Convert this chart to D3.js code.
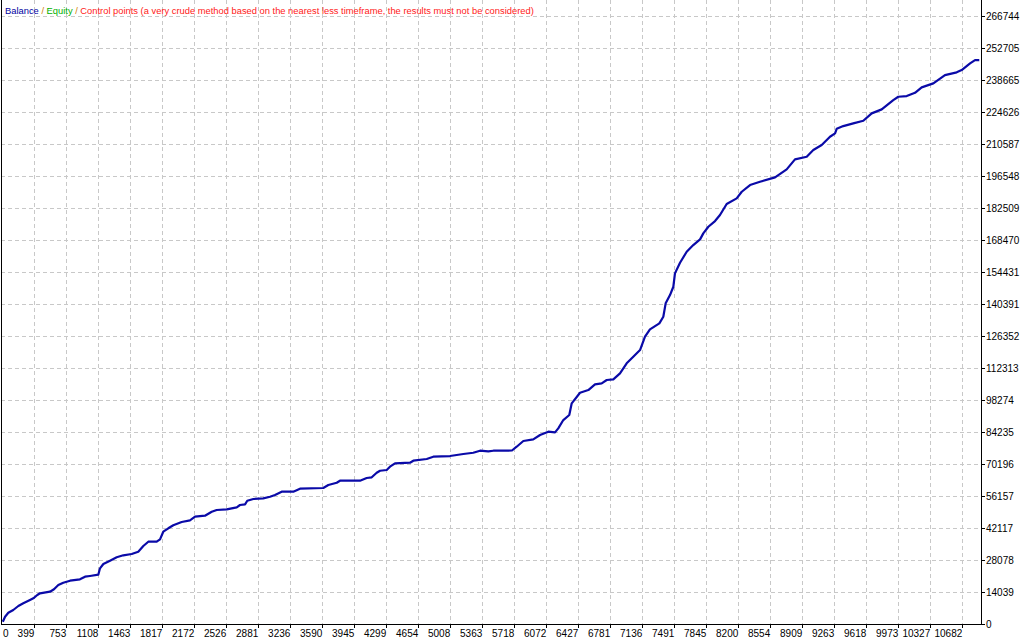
<!DOCTYPE html>
<html>
<head>
<meta charset="utf-8">
<script src="https://cdnjs.cloudflare.com/ajax/libs/d3/7.8.5/d3.min.js"></script>
<style>
  body { margin: 0; background: #fff; }
  svg text { font-family: "Liberation Sans", Arial, sans-serif; font-size: 10px; }
</style>
</head>
<body>
<div id="chart"></div>
<script>
// trade number -> balance
const trades = [50, 75, 111, 166, 222, 277, 351, 388, 432, 462, 573, 617, 665, 720, 795, 905, 961, 1016, 1108, 1127,
  1164, 1238, 1312, 1385, 1478, 1551, 1607, 1662, 1755, 1792, 1828, 1884, 1939, 2032, 2124, 2180, 2290, 2365, 2420, 2531,
  2642, 2678, 2734, 2759, 2826, 2936, 3011, 3066, 3140, 3269, 3343, 3601, 3657, 3750, 3786, 4008, 4082, 4138, 4193, 4230,
  4304, 4340, 4396, 4562, 4599, 4747, 4820, 5005, 5153, 5263, 5338, 5430, 5485, 5692, 5744, 5818, 5928, 6003, 6095, 6169,
  6205, 6261, 6327, 6354, 6446, 6538, 6612, 6686, 6742, 6815, 6889, 6963, 7036, 7111, 7166, 7221, 7325, 7369, 7395, 7443,
  7480, 7498, 7554, 7628, 7701, 7776, 7812, 7868, 7942, 7997, 8071, 8182, 8238, 8330, 8440, 8607, 8736, 8828, 8958, 9031,
  9124, 9216, 9272, 9290, 9363, 9474, 9585, 9678, 9789, 9917, 9973, 10066, 10158, 10232, 10361, 10490, 10620, 10675, 10768, 10823,
  10870];
const balance = [1000, 3200, 4950, 6140, 7890, 9070, 10520, 11270, 12710, 13460, 14160, 15210, 17090, 18100, 18980, 19590, 20730, 21040, 21610, 24410,
  26300, 27750, 29240, 30110, 30680, 31690, 34190, 36070, 36070, 37120, 40460, 41950, 43260, 44710, 45450, 47030, 47470, 49220, 49970, 50270,
  51150, 52160, 52470, 54040, 54790, 55100, 55800, 56540, 57990, 57990, 59300, 59610, 60930, 61930, 62810, 62810, 63990, 64300, 66320, 67190,
  67500, 68950, 70440, 70700, 71580, 72320, 73330, 73630, 74510, 75080, 75960, 75690, 75960, 76050, 77710, 80210, 80950, 82840, 84290, 84020,
  85780, 89410, 91610, 96730, 101380, 102560, 105060, 105500, 106950, 107250, 109880, 114270, 117160, 120100, 125930, 129170, 131800, 134690, 140560, 144200,
  147840, 153710, 158360, 163180, 166120, 168610, 171240, 174140, 176640, 179270, 184090, 186580, 189480, 192410, 193860, 195790, 199300, 203680, 204820, 207760,
  209950, 213590, 215080, 217090, 218270, 219460, 220600, 223840, 225590, 229670, 231120, 231420, 232870, 235240, 236990, 240630, 241820, 242820, 245760, 247200,
  247200];
const xTicks = [0, 399, 753, 1108, 1463, 1817, 2172, 2526, 2881, 3236, 3590, 3945, 4299, 4654, 5008, 5363, 5718,
  6072, 6427, 6781, 7136, 7491, 7845, 8200, 8554, 8909, 9263, 9618, 9973, 10327, 10682];
const yTicks = [0, 14039, 28078, 42117, 56157, 70196, 84235, 98274, 112313, 126352, 140391, 154431, 168470, 182509,
  196548, 210587, 224626, 238665, 252705, 266744];
const legendParts = [
  { text: "Balance", color: "#0000a0" },
  { text: " / ", color: "#d08000" },
  { text: "Equity", color: "#00b000" },
  { text: " / ", color: "#d08000" },
  { text: "Control points (a very crude method based on the nearest less timeframe, the results must not be considered)", color: "#ff2020" }
];

const W = 1024, H = 640;
const left = 1, right = 981, bottom = 624;

const svg = d3.select("#chart").append("svg")
  .attr("width", W).attr("height", H)
  .style("display", "block");

svg.append("rect").attr("width", W).attr("height", H).attr("fill", "#fff");

const x = d3.scaleLinear().domain([0, 10682]).range([-1.7, 962.3]);
const y = d3.scaleLinear().domain([0, 266744]).range([bottom, 15.5]);

// grid
const grid = svg.append("g").attr("stroke", "#c8c8c8").attr("stroke-dasharray", "4,3").attr("shape-rendering", "crispEdges");
grid.selectAll(".vg").data(xTicks.slice(1)).enter().append("line")
  .attr("x1", d => Math.round(x(d)) + 0.5).attr("x2", d => Math.round(x(d)) + 0.5)
  .attr("y1", 0).attr("y2", bottom);
grid.selectAll(".hg").data(yTicks.slice(1)).enter().append("line")
  .attr("x1", left).attr("x2", right)
  .attr("y1", d => Math.round(y(d)) + 0.5).attr("y2", d => Math.round(y(d)) + 0.5);

// balance line
const line = d3.line()
  .x((d, i) => x(trades[i]))
  .y(d => y(d));

svg.append("defs").append("clipPath").attr("id", "clip")
  .append("rect").attr("x", left).attr("y", 0).attr("width", right - left).attr("height", bottom);

svg.append("path")
  .datum(balance)
  .attr("clip-path", "url(#clip)")
  .attr("fill", "none")
  .attr("stroke", "#0a0aa8")
  .attr("stroke-width", 2.2)
  .attr("stroke-linejoin", "round")
  .attr("d", line);

// frame
const frame = svg.append("g").attr("stroke", "#000").attr("shape-rendering", "crispEdges");
frame.append("line").attr("x1", left + 0.5).attr("x2", left + 0.5).attr("y1", 0).attr("y2", bottom + 1);
frame.append("line").attr("x1", right + 0.5).attr("x2", right + 0.5).attr("y1", 0).attr("y2", bottom + 1);
frame.append("line").attr("x1", left).attr("x2", right + 1).attr("y1", bottom + 0.5).attr("y2", bottom + 0.5);

// right axis
const ya = svg.append("g");
ya.selectAll("line").data(yTicks).enter().append("line")
  .attr("stroke", "#000").attr("shape-rendering", "crispEdges")
  .attr("x1", right).attr("x2", right + 4)
  .attr("y1", d => Math.round(y(d)) + 0.5).attr("y2", d => Math.round(y(d)) + 0.5);
ya.selectAll("text").data(yTicks).enter().append("text")
  .attr("x", right + 5)
  .attr("y", d => y(d) + 4)
  .attr("fill", "#000")
  .text(d => d);

// bottom axis
const xa = svg.append("g");
xa.selectAll("line").data(xTicks.slice(1)).enter().append("line")
  .attr("stroke", "#000").attr("shape-rendering", "crispEdges")
  .attr("x1", d => Math.round(x(d)) + 0.5).attr("x2", d => Math.round(x(d)) + 0.5)
  .attr("y1", bottom).attr("y2", bottom + 4);
xa.selectAll("text").data(xTicks).enter().append("text")
  .attr("x", d => Math.max(x(d), 8.5))
  .attr("y", 637)
  .attr("text-anchor", "end")
  .attr("fill", "#000")
  .text(d => d);

// legend
const leg = svg.append("text").attr("x", 5).attr("y", 14).attr("xml:space", "preserve")
  .style("font-size", "9.35px");
leg.selectAll("tspan").data(legendParts).enter().append("tspan")
  .attr("fill", d => d.color)
  .text(d => d.text);
</script>
</body>
</html>
